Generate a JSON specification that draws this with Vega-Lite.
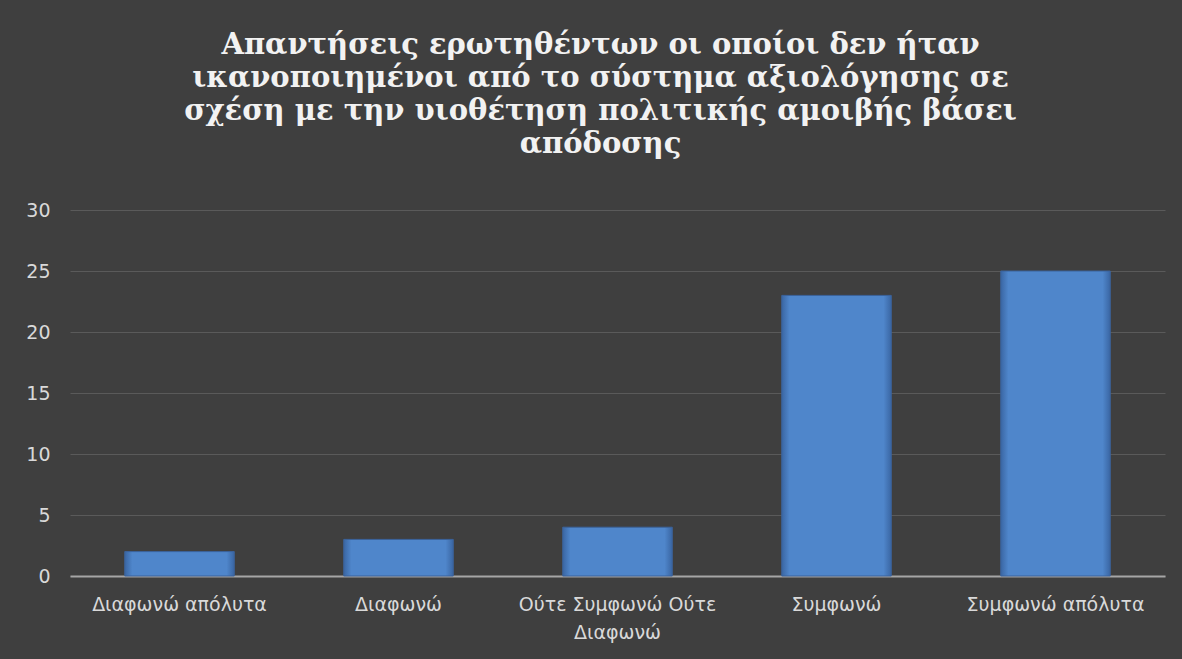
{
  "$schema": "https://vega.github.io/schema/vega-lite/v6.json",
  "width": 1095,
  "height": 366,
  "autosize": {"type": "none"},
  "padding": {"left": 70, "top": 210, "right": 17, "bottom": 83},
  "background": "#3f3f3f",
  "title": {
    "text": ["Απαντήσεις ερωτηθέντων οι οποίοι δεν ήταν", "ικανοποιημένοι από το σύστημα αξιολόγησης  σε", "σχέση με την υιοθέτηση πολιτικής αμοιβής βάσει", "απόδοσης"],
    "font": "DejaVu Serif",
    "fontWeight": "bold",
    "fontSize": 29,
    "lineHeight": 33,
    "color": "#f2f2f2",
    "anchor": "middle",
    "dx": -17,
    "offset": 42
  },
  "data": {
    "values": [
      {"category": "Διαφωνώ απόλυτα", "value": 2},
      {"category": "Διαφωνώ", "value": 3},
      {"category": "Ούτε Συμφωνώ Ούτε Διαφωνώ", "value": 4},
      {"category": "Συμφωνώ", "value": 23},
      {"category": "Συμφωνώ απόλυτα", "value": 25}
    ]
  },
  "mark": {
    "type": "bar",
    "color": {
      "gradient": "linear", "x1": 0, "y1": 0, "x2": 1, "y2": 0,
      "stops": [
        {"offset": 0, "color": "#3a66a3"},
        {"offset": 0.07, "color": "#4f86cb"},
        {"offset": 0.93, "color": "#4f86cb"},
        {"offset": 1, "color": "#3a66a3"}
      ]
    },
    "stroke": "#3b639c",
    "strokeWidth": 1
  },
  "encoding": {
    "x": {
      "field": "category",
      "type": "nominal",
      "sort": null,
      "scale": {"paddingInner": 0.5, "paddingOuter": 0.25},
      "axis": {
        "title": null,
        "labelAngle": 0,
        "labelFont": "DejaVu Sans",
        "labelFontSize": 19,
        "labelColor": "#d9d9d9",
        "labelPadding": 19,
        "labelLineHeight": 28,
        "labelBaseline": "top",
        "labelLimit": 400,
        "labelExpr": "datum.label == 'Ούτε Συμφωνώ Ούτε Διαφωνώ' ? ['Ούτε Συμφωνώ Ούτε', 'Διαφωνώ'] : datum.label",
        "ticks": false,
        "domainColor": "#a6a6a6",
        "domainWidth": 2,
        "grid": false
      }
    },
    "y": {
      "field": "value",
      "type": "quantitative",
      "scale": {"domain": [0, 30]},
      "axis": {
        "title": null,
        "values": [0, 5, 10, 15, 20, 25, 30],
        "labelFont": "DejaVu Sans",
        "labelFontSize": 19,
        "labelColor": "#d9d9d9",
        "labelPadding": 20,
        "ticks": false,
        "domain": false,
        "gridColor": "#5a5a5a",
        "gridWidth": 1
      }
    }
  },
  "config": {"view": {"stroke": null}}
}
